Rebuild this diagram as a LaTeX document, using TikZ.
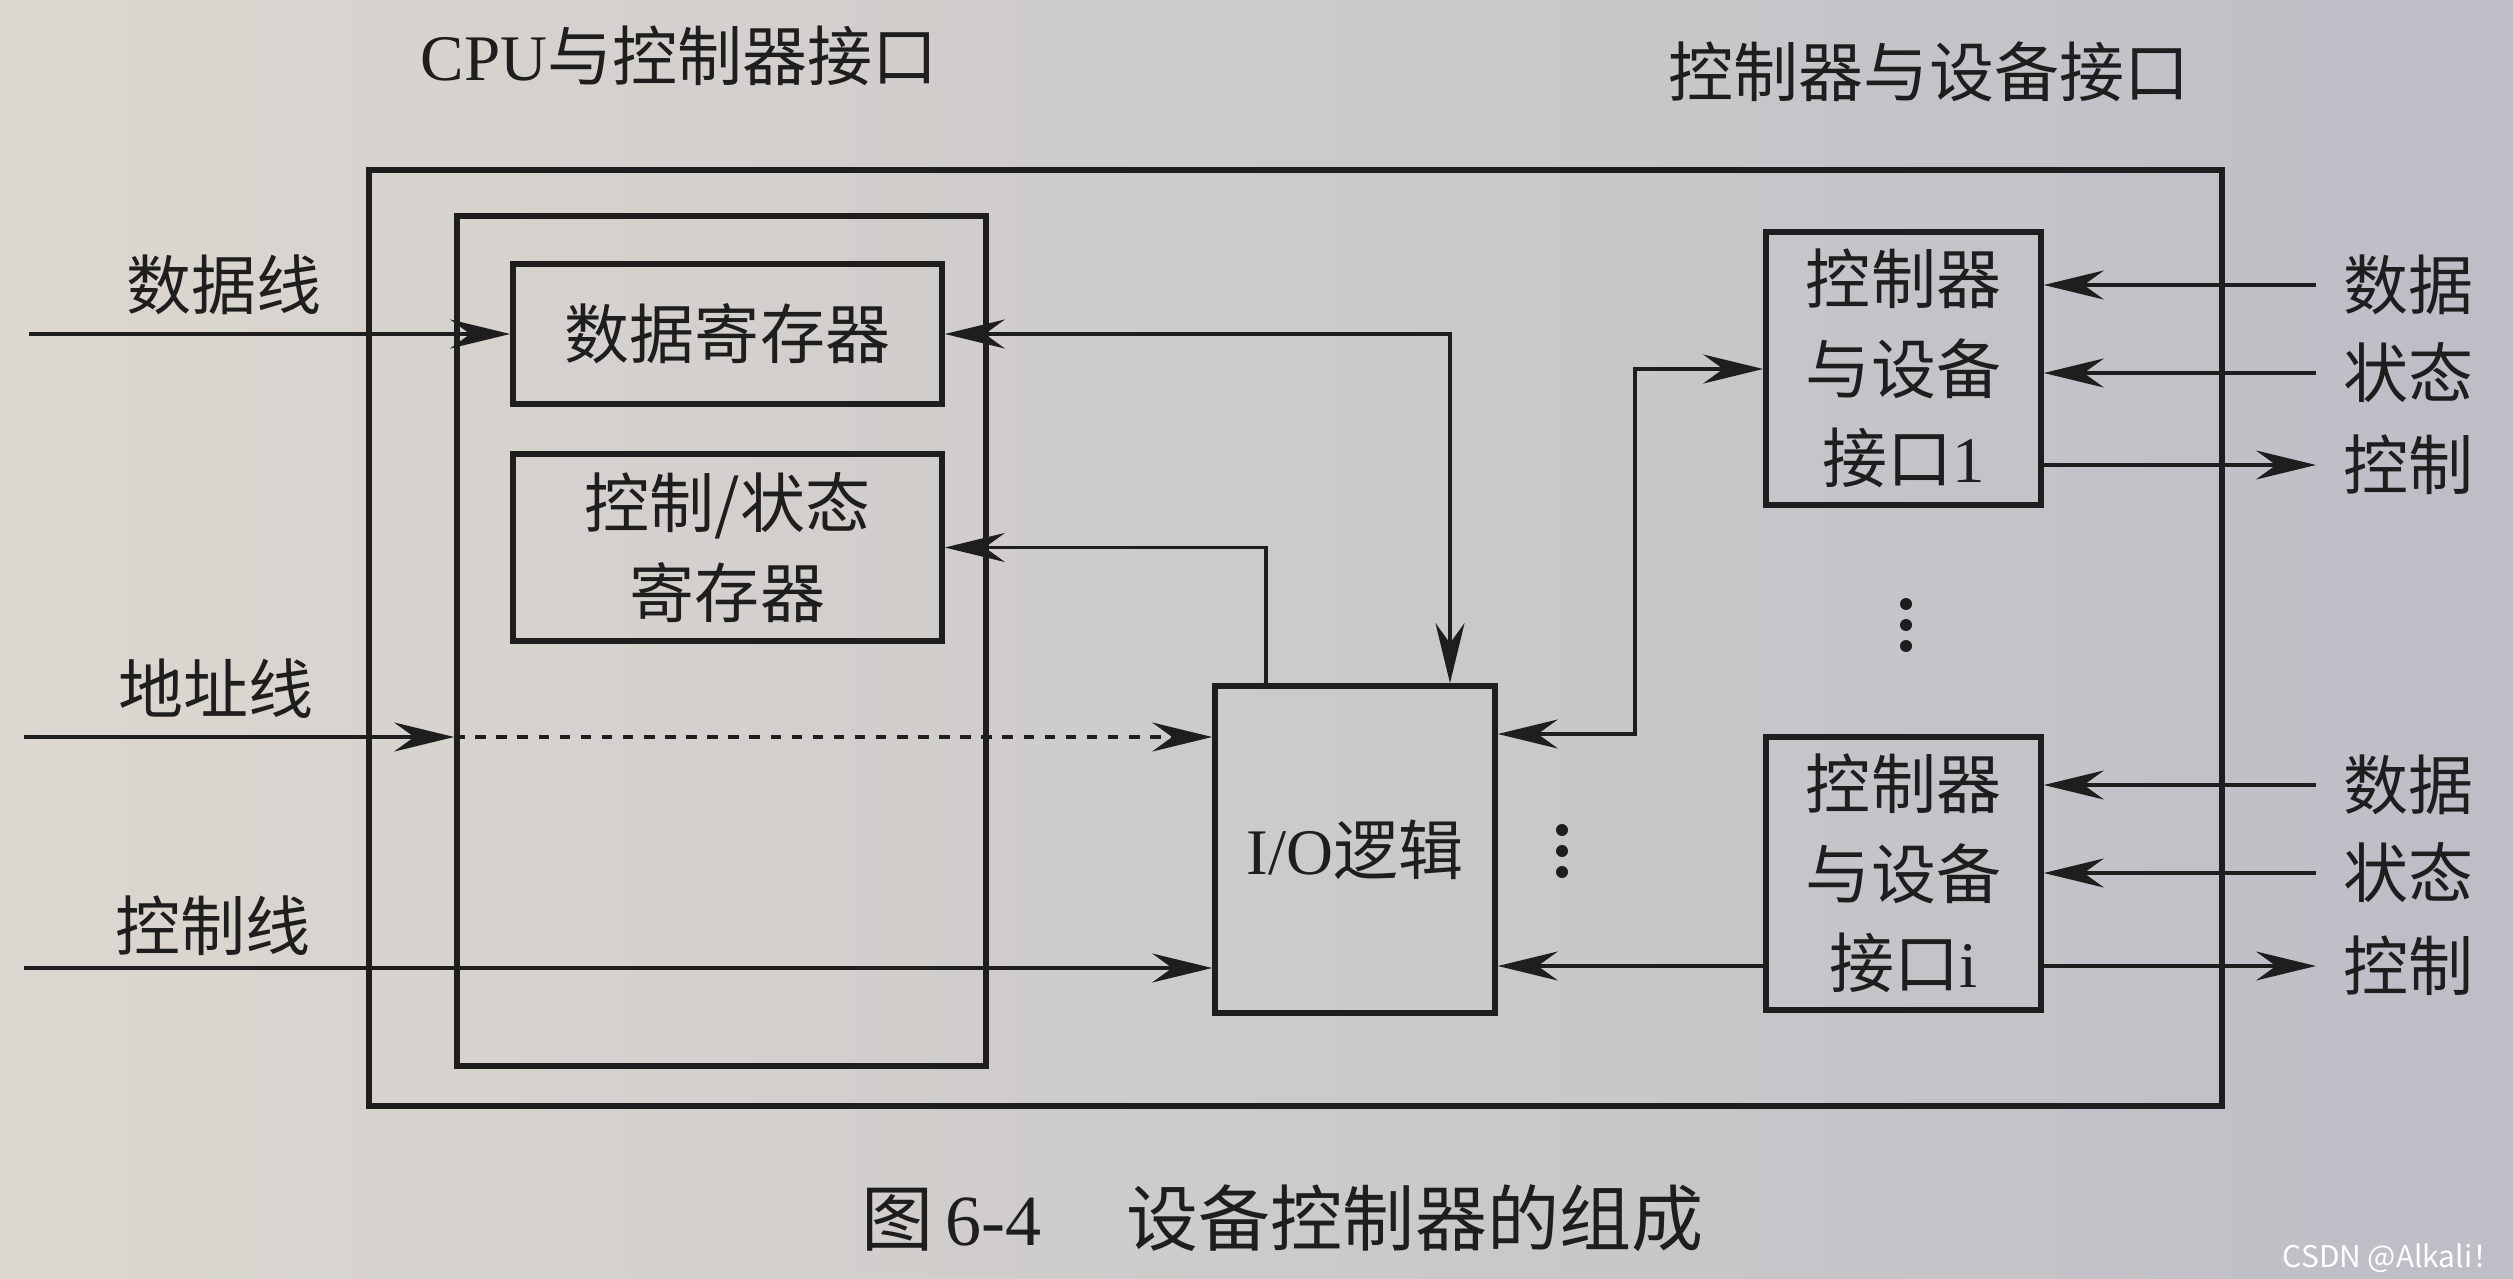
\documentclass[tikz,border=0pt]{standalone}
\usepackage{fontspec}
\setmainfont{Noto Sans CJK SC}
\newfontfamily\lat{Liberation Serif}
\usetikzlibrary{arrows.meta}
\definecolor{ink}{HTML}{1E1E1E}
\definecolor{bgL}{HTML}{DCD7D0}
\definecolor{bgR}{HTML}{BDBEC6}
\tikzset{
  box/.style={draw=ink, line width=1.6pt, inner sep=0pt, align=center,
    text=ink, font=\fontsize{18.5}{25.5}\selectfont},
  conn/.style={draw=ink, line width=1.1pt},
  arr/.style={-{Stealth[length=6mm,width=2.9mm,inset=2mm]}},
  darr/.style={{Stealth[length=6mm,width=2.9mm,inset=2mm]}-{Stealth[length=6mm,width=2.9mm,inset=2mm]}},
  lbl/.style={inner sep=0pt, text=ink, font=\fontsize{18.5}{22}\selectfont},
  dotc/.style={fill=ink},
}
\begin{document}
\begin{tikzpicture}
\useasboundingbox (0,0) rectangle (25.13,-12.79);
\shade[left color=bgL, right color=bgR] (0,0) rectangle (25.13,-12.79);

% boxes
\node[box, minimum width=18.53cm, minimum height=9.36cm] (outer) at (12.955,-6.38) {};
\node[box, minimum width=5.29cm, minimum height=8.50cm] (cpuif) at (7.215,-6.41) {};
\node[box, minimum width=4.29cm, minimum height=1.40cm] (dreg) at (7.275,-3.34) {数据寄存器};
\node[box, minimum width=4.29cm, minimum height=1.87cm] (csreg) at (7.275,-5.475) {控制/状态\\寄存器};
\node[box, minimum width=2.80cm, minimum height=3.27cm] (io) at (13.55,-8.495) {{\lat I/O}逻辑};
\node[box, minimum width=2.75cm, minimum height=2.73cm] (if1) at (19.035,-3.685) {控制器\\与设备\\接口{\lat 1}};
\node[box, minimum width=2.75cm, minimum height=2.73cm] (ifi) at (19.035,-8.735) {控制器\\与设备\\接口{\lat i}};

% titles
\node[lbl, anchor=west] (t1) at (4.20,-0.56) {{\lat CPU}与控制器接口};
\node[lbl] (t2) at (19.29,-0.72) {控制器与设备接口};

% left labels
\node[lbl] (ldata) at (2.24,-2.85) {数据线};
\node[lbl] (laddr) at (2.16,-6.89) {地址线};
\node[lbl] (lctrl) at (2.13,-9.26) {控制线};

% left coordinates
\coordinate (d0) at (0.29,-3.34);
\coordinate (a0) at (0.24,-7.37);
\coordinate (k0) at (0.24,-9.68);

% left connectors
\draw[conn, arr] (d0) -- (dreg.west |- d0);
\draw[conn, arr] (a0) -- (cpuif.west |- a0);
\draw[conn, arr, dashed] (cpuif.west |- a0) -- (io.west |- a0);
\draw[conn, arr] (k0) -- (io.west |- k0);

% register <-> I/O logic
\coordinate (c1) at (14.50,-3.37);
\coordinate (c2) at (12.66,-5.48);
\draw[conn, darr] (dreg.east) -| (io.north -| c1);
\draw[conn, arr] (io.north -| c2) |- (csreg.east);

% I/O logic <-> interfaces
\coordinate (j1) at (16.35,-7.34);
\coordinate (j2) at (16.35,-3.69);
\coordinate (j3) at (16.35,-9.66);
\draw[conn, darr] (io.east |- j1) -- (j1) -- (j2) -- (if1.west |- j2);
\draw[conn, arr] (ifi.west |- j3) -- (io.east |- j3);

% right labels
\node[lbl, anchor=west] (r1d) at (23.43,-2.85) {数据};
\node[lbl, anchor=west] (r1s) at (23.43,-3.73) {状态};
\node[lbl, anchor=west] (r1c) at (23.43,-4.65) {控制};
\node[lbl, anchor=west] (r2d) at (23.43,-7.85) {数据};
\node[lbl, anchor=west] (r2s) at (23.43,-8.73) {状态};
\node[lbl, anchor=west] (r2c) at (23.43,-9.66) {控制};

\draw[conn, arr, shorten <=0.27cm] (r1d.west) -- (if1.east |- r1d.west);
\draw[conn, arr, shorten <=0.27cm] (r1s.west) -- (if1.east |- r1s.west);
\draw[conn, arr, shorten >=0.27cm] (if1.east |- r1c.west) -- (r1c.west);
\draw[conn, arr, shorten <=0.27cm] (r2d.west) -- (ifi.east |- r2d.west);
\draw[conn, arr, shorten <=0.27cm] (r2s.west) -- (ifi.east |- r2s.west);
\draw[conn, arr, shorten >=0.27cm] (ifi.east |- r2c.west) -- (r2c.west);

% vertical dots
\foreach \dy in {-0.21,0,0.21} {
  \fill[dotc] (15.62,-8.51+\dy) circle (0.06);
  \fill[dotc] (19.06,-6.25+\dy) circle (0.06);
}

% caption
\node[lbl, anchor=west, font=\fontsize{20.5}{24}\selectfont] (cap) at (8.61,-12.18)
  {图\,{\lat 6-4}\hspace{0.85cm}设备控制器的组成};

% watermark
\node[anchor=east, inner sep=0pt, text=white, font=\fontsize{8.5}{10}\selectfont] (wm) at (25.03,-12.58) {CSDN @Alkali！};
\end{tikzpicture}
\end{document}
